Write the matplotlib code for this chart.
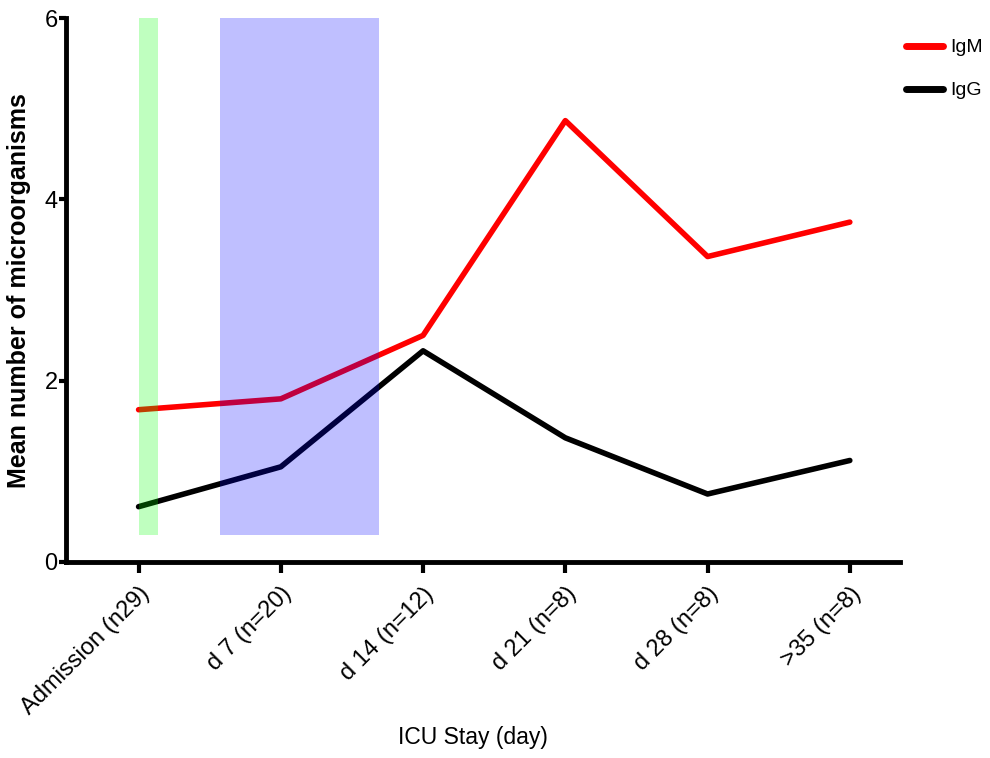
import numpy as np
import matplotlib.pyplot as plt

# data
categories = ["Admission (n29)", "d 7 (n=20)", "d 14 (n=12)",
              "d 21 (n=8)", "d 28 (n=8)", ">35 (n=8)"]
igm = [1.68, 1.80, 2.50, 4.87, 3.37, 3.75]
igg = [0.61, 1.05, 2.33, 1.37, 0.75, 1.12]

plt.rcParams['font.family'] = ['Liberation Sans', 'DejaVu Sans']

fig = plt.figure(figsize=(9.9, 7.58), dpi=100)
ax = fig.add_axes([0.0667, 0.2586, 0.842, 0.7174])

x = np.arange(len(categories))
ax.plot(x, igm, color="#ff0000", lw=4, label="IgM", solid_capstyle="round", zorder=2)
ax.plot(x, igg, color="black", lw=4, label="IgG", solid_capstyle="round", zorder=2)

# shaded periods (drawn above the lines)
ax.fill_between([0.0, 0.14], 0.3, 6.0, color="#00ff00", alpha=0.25, lw=0, zorder=3)
ax.fill_between([0.57, 1.69], 0.3, 6.0, color="#0000ff", alpha=0.25, lw=0, zorder=3)

ax.set_xlim(-0.51, 5.35)
ax.set_ylim(0, 6)
ax.set_yticks([0, 2, 4, 6])
ax.set_xticks(x)
ax.set_xticklabels(categories, rotation=45, ha="right", rotation_mode="anchor",
                   fontsize=17)
ax.tick_params(axis="y", labelsize=17, width=3, length=5, pad=1)
ax.tick_params(axis="x", width=3, length=8, pad=7)

for s in ["top", "right"]:
    ax.spines[s].set_visible(False)
for s in ["left", "bottom"]:
    ax.spines[s].set_linewidth(3.5)

ax.set_ylabel("Mean number of microorganisms", fontsize=18, fontweight="bold", labelpad=10)
fig.text(0.478, 0.012, "ICU Stay (day)", fontsize=16.5, ha="center", va="bottom")

leg = ax.legend(loc="upper left", bbox_to_anchor=(1.008, 0.962), frameon=False,
                fontsize=14, handlelength=1.9, handletextpad=0.35, labelspacing=1.3,
                borderaxespad=0, borderpad=0)
for h in leg.get_lines():
    h.set_linewidth(5)

fig.savefig("out.png", dpi=100)
